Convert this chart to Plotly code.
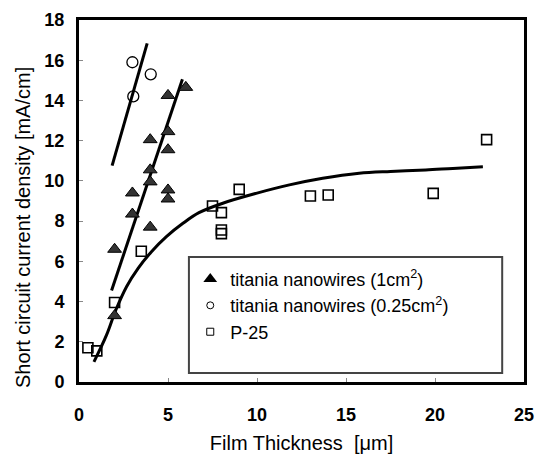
import plotly.graph_objects as go

# Data
tri_x = [2.0, 2.0, 3.0, 3.0, 4.0, 4.0, 4.0, 4.0, 5.0, 5.0, 5.0, 5.0, 5.0, 6.0]
tri_y = [3.3, 6.6, 8.35, 9.4, 7.7, 9.95, 10.55, 12.05, 9.1, 9.55, 11.55, 12.45, 14.25, 14.65]

circ_x = [3.0, 3.05, 4.03]
circ_y = [15.9, 14.2, 15.3]

sq_x = [0.5, 1.0, 2.0, 3.5, 7.5, 8.0, 8.0, 8.0, 9.0, 13.0, 14.0, 19.9, 22.9]
sq_y = [1.7, 1.55, 3.95, 6.5, 8.75, 8.42, 7.56, 7.38, 9.58, 9.25, 9.3, 9.38, 12.05]

tri_fit_x = [1.83, 5.81]
tri_fit_y = [4.55, 15.05]

circ_fit_x = [1.86, 3.83]
circ_fit_y = [10.76, 16.84]

curve_x = [0.84, 1.55, 2.07, 2.67, 3.32, 4.07, 4.91, 5.84, 6.74, 8.08, 9.95,
           11.82, 13.69, 15.74, 17.5, 19.48, 21.0, 22.69]
curve_y = [1.0, 2.34, 3.58, 4.74, 5.65, 6.48, 7.23, 7.89, 8.42, 8.89, 9.38,
           9.8, 10.13, 10.38, 10.47, 10.54, 10.62, 10.7]

x_ticks = [0, 5, 10, 15, 20, 25]
y_ticks = [0, 2, 4, 6, 8, 10, 12, 14, 16, 18]

legend_names = ["titania nanowires (1cm<sup>2</sup>)",
                "titania nanowires (0.25cm<sup>2</sup>)",
                "P-25"]

FONT = "Liberation Sans, Arial, sans-serif"

fig = go.Figure()

# fit lines
for lx, ly, shape in [(tri_fit_x, tri_fit_y, "linear"), (circ_fit_x, circ_fit_y, "linear"),
                      (curve_x, curve_y, "spline")]:
    fig.add_trace(go.Scatter(x=lx, y=ly, mode="lines", showlegend=False,
                             line=dict(color="black", width=3, shape=shape),
                             hoverinfo="skip"))

tri_marker = dict(symbol="triangle-up", size=12, color="#333333",
                  line=dict(color="black", width=1))
circ_marker = dict(symbol="circle-open", size=11, color="black", line=dict(width=1.3))
sq_marker = dict(symbol="square-open", size=10, color="black", line=dict(width=1.6))

fig.add_trace(go.Scatter(x=tri_x, y=tri_y, mode="markers", marker=tri_marker,
                         name=legend_names[0], legendgroup="a", showlegend=False))
fig.add_trace(go.Scatter(x=circ_x, y=circ_y, mode="markers", marker=circ_marker,
                         name=legend_names[1], legendgroup="b", showlegend=False))
fig.add_trace(go.Scatter(x=sq_x, y=sq_y, mode="markers", marker=sq_marker,
                         name=legend_names[2], legendgroup="c", showlegend=False))

# legend entries (smaller symbols as in the reference legend)
leg_markers = [
    dict(symbol="triangle-up", size=12, color="black"),
    dict(symbol="circle-open", size=7, color="black", line=dict(width=1)),
    dict(symbol="square-open", size=7, color="black", line=dict(width=1)),
]
for nm, mk, grp in zip(legend_names, leg_markers, ["a", "b", "c"]):
    fig.add_trace(go.Scatter(x=[None], y=[None], mode="markers", marker=mk,
                             name=nm, legendgroup=grp, showlegend=True))

# legend frame
fig.add_shape(type="rect", xref="paper", yref="paper",
              x0=0.247, x1=0.951, y0=0.025, y1=0.345,
              line=dict(color="#444444", width=2), fillcolor="white", layer="below")

tickfont = dict(family="Arial", size=18, color="black", weight="bold")
axis_common = dict(showline=True, linecolor="black", linewidth=3, mirror=True,
                   ticks="inside", ticklen=4, tickcolor="#888888", tickwidth=1,
                   showgrid=False, zeroline=False, tickfont=tickfont, automargin=False)

fig.add_annotation(text="Short circuit current density [mA/cm]", textangle=-90,
                   xref="paper", yref="paper", x=-0.126, y=0.428,
                   xanchor="center", yanchor="middle", showarrow=False,
                   font=dict(family=FONT, size=20, color="black"))

fig.update_layout(
    width=549, height=454,
    margin=dict(l=79, r=25, t=20, b=72),
    paper_bgcolor="white", plot_bgcolor="white",
    font=dict(family=FONT, color="black"),
    xaxis=dict(range=[0, 25], tickvals=x_ticks,
               ticktext=[f"<b>{v}</b>" for v in x_ticks],
               title=dict(text="Film Thickness  [μm]", font=dict(size=20), standoff=18),
               ticklabelstandoff=14, **axis_common),
    yaxis=dict(range=[0, 18], tickvals=y_ticks,
               ticktext=[f"<b>{v}</b>" for v in y_ticks],
               ticklabelstandoff=8, **axis_common),
    legend=dict(x=0.25, y=0.335, xanchor="left", yanchor="top",
                bgcolor="rgba(0,0,0,0)", borderwidth=0,
                font=dict(family=FONT, size=18, color="black"),
                tracegroupgap=0, itemsizing="trace"),
    showlegend=True,
)

fig.write_html("out.html")
